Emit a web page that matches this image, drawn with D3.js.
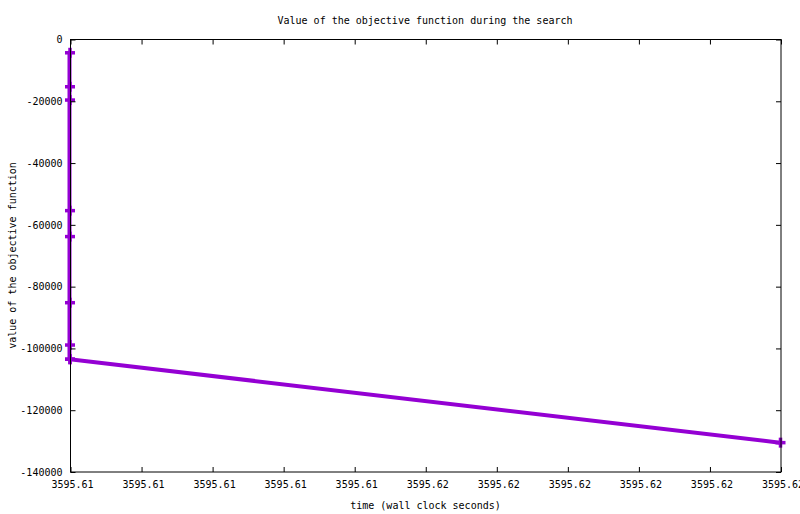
<!DOCTYPE html>
<html>
<head>
<meta charset="utf-8">
<script src="https://cdn.jsdelivr.net/npm/d3@7"></script>
<style>
  html, body { margin: 0; padding: 0; background: #fff; }
  svg { display: block; }
  text { font-family: "DejaVu Sans Mono", monospace; font-size: 10px; fill: #000; }
</style>
</head>
<body>
<svg id="chart" width="800" height="514"></svg>
<script>
// ---- data ----
const times = [3595.610, 3595.610, 3595.610, 3595.610, 3595.610, 3595.610, 3595.610, 3595.610, 3595.610, 3595.620];
const objective = [-4300, -15300, -19600, -55400, -63800, -85200, -98900, -103500, -103500, -130500];
const xTickValues = [3595.610, 3595.611, 3595.612, 3595.613, 3595.614, 3595.615, 3595.616, 3595.617, 3595.618, 3595.619, 3595.620];
const xTickLabels = ["3595.61", "3595.61", "3595.61", "3595.61", "3595.61", "3595.62", "3595.62", "3595.62", "3595.62", "3595.62", "3595.62"];
const yTickValues = [0, -20000, -40000, -60000, -80000, -100000, -120000, -140000];
const yTickLabels = ["0", "-20000", "-40000", "-60000", "-80000", "-100000", "-120000", "-140000"];
const titleText = "Value of the objective function during the search";
const xLabelText = "time (wall clock seconds)";
const yLabelText = "value of the objective function";

// ---- layout ----
const svg = d3.select("#chart");
const pLeft = 70.5, pRight = 781, pTop = 39.5, pBottom = 472;
const color = "#9400d3";

const x = d3.scaleLinear().domain([3595.610, 3595.620]).range([pLeft, pRight]);
const y = d3.scaleLinear().domain([-140000, 0]).range([pBottom, pTop]);

const points = times.map((t, i) => ({ t: t, v: objective[i] }));

// data line
svg.append("path")
  .datum(points)
  .attr("fill", "none")
  .attr("stroke", color)
  .attr("stroke-width", 4)
  .attr("d", d3.line().x(d => x(d.t) - 1).y(d => y(d.v)));

// plus markers
const mk = svg.append("g").attr("stroke", color).attr("stroke-width", 3.5);
points.forEach(d => {
  const cx = x(d.t) - 0.5, cy = y(d.v);
  mk.append("line").attr("x1", cx - 5).attr("x2", cx + 5).attr("y1", cy).attr("y2", cy);
  mk.append("line").attr("x1", cx).attr("x2", cx).attr("y1", cy - 5).attr("y2", cy + 5);
});

// axes (drawn on top, gnuplot style with mirrored inward ticks)
const xb = d3.axisBottom(x).tickValues(xTickValues).tickFormat((d, i) => xTickLabels[i]).tickSizeInner(-5).tickSizeOuter(0).tickPadding(9);
const xt = d3.axisTop(x).tickValues(xTickValues).tickFormat("").tickSizeInner(-5).tickSizeOuter(0);
const yl = d3.axisLeft(y).tickValues(yTickValues).tickFormat((d, i) => yTickLabels[i]).tickSizeInner(-5).tickSizeOuter(0).tickPadding(8);
const yr = d3.axisRight(y).tickValues(yTickValues).tickFormat("").tickSizeInner(-5).tickSizeOuter(0);

function style(g) {
  g.selectAll(".domain").remove();
  g.selectAll("line").attr("stroke", "#000").attr("stroke-width", 1);
  g.selectAll("text").attr("font-family", "DejaVu Sans Mono").attr("font-size", 10).attr("fill", "#000");
}
svg.append("g").attr("transform", `translate(0,${pBottom})`).call(xb).call(style)
  .selectAll("text").attr("dx", 1.5);
svg.append("g").attr("transform", `translate(0,${pTop})`).call(xt).call(style);
svg.append("g").attr("transform", `translate(${pLeft},0)`).call(yl).call(style);
svg.append("g").attr("transform", `translate(${pRight},0)`).call(yr).call(style);

// border
svg.append("rect")
  .attr("x", pLeft).attr("y", pTop)
  .attr("width", pRight - pLeft).attr("height", pBottom - pTop)
  .attr("fill", "none").attr("stroke", "#000").attr("stroke-width", 1);

// titles
svg.append("text").attr("x", 425).attr("y", 20).attr("dy", "0.35em")
  .attr("text-anchor", "middle").text(titleText);
svg.append("text").attr("x", 425.5).attr("y", 505).attr("dy", "0.35em")
  .attr("text-anchor", "middle").text(xLabelText);
svg.append("text").attr("transform", "translate(12,255.5) rotate(-90)").attr("dy", "0.35em")
  .attr("text-anchor", "middle").text(yLabelText);
</script>
</body>
</html>
